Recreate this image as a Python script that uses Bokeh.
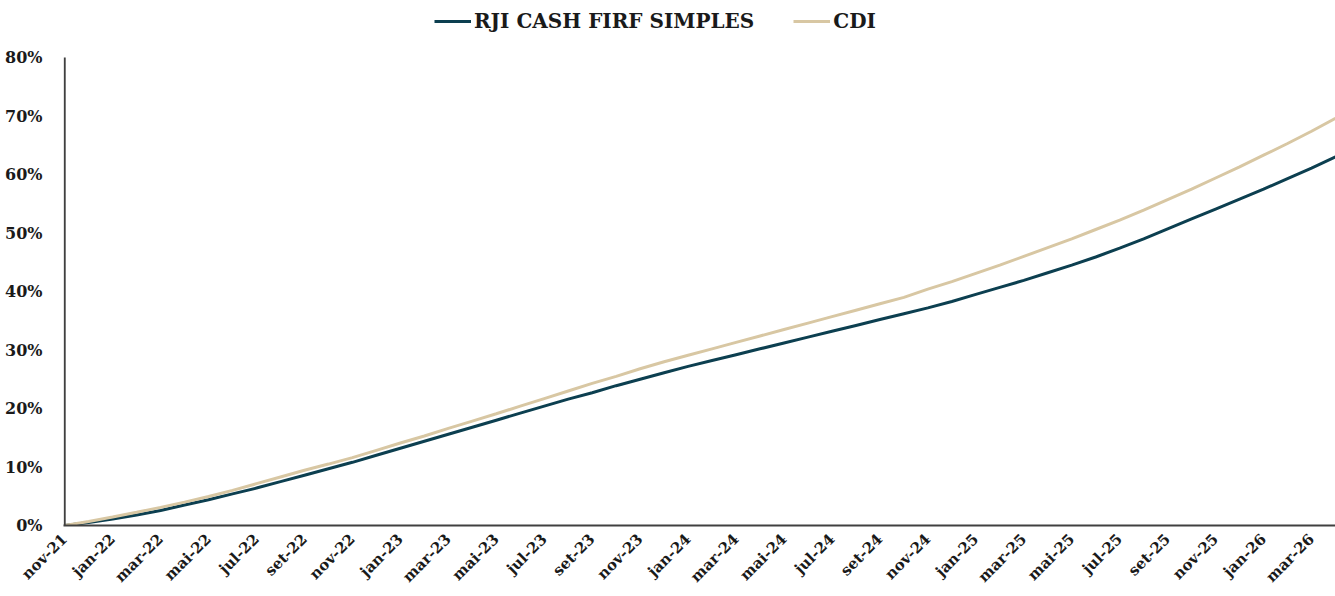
from math import pi
from bokeh.plotting import figure
from bokeh.models import Legend, LegendItem, FixedTicker, PrintfTickFormatter, Range1d
from bokeh.embed import file_html
from bokeh.resources import INLINE

# Monthly cumulative returns (%), nov-21 .. abr-26
months = ["nov-21", "dez-21", "jan-22", "fev-22", "mar-22", "abr-22", "mai-22", "jun-22",
          "jul-22", "ago-22", "set-22", "out-22", "nov-22", "dez-22", "jan-23", "fev-23",
          "mar-23", "abr-23", "mai-23", "jun-23", "jul-23", "ago-23", "set-23", "out-23",
          "nov-23", "dez-23", "jan-24", "fev-24", "mar-24", "abr-24", "mai-24", "jun-24",
          "jul-24", "ago-24", "set-24", "out-24", "nov-24", "dez-24", "jan-25", "fev-25",
          "mar-25", "abr-25", "mai-25", "jun-25", "jul-25", "ago-25", "set-25", "out-25",
          "nov-25", "dez-25", "jan-26", "fev-26", "mar-26", "abr-26"]

rji = [0.0, 0.5, 1.1, 1.8, 2.55, 3.5, 4.4, 5.4, 6.4, 7.5, 8.6, 9.7, 10.8, 12.0, 13.2, 14.4,
       15.6, 16.8, 18.0, 19.2, 20.4, 21.6, 22.7, 23.9, 25.0, 26.1, 27.2, 28.2, 29.2, 30.2,
       31.2, 32.2, 33.2, 34.2, 35.2, 36.2, 37.2, 38.3, 39.5, 40.7, 41.9, 43.2, 44.5, 45.9,
       47.4, 49.0, 50.7, 52.4, 54.1, 55.8, 57.5, 59.3, 61.1, 63.0]

cdi = [0.0, 0.7, 1.45, 2.25, 3.1, 4.0, 4.95, 6.0, 7.15, 8.3, 9.45, 10.5, 11.6, 12.85, 14.1,
       15.3, 16.6, 17.85, 19.1, 20.4, 21.7, 23.0, 24.3, 25.5, 26.8, 28.0, 29.1, 30.2, 31.3,
       32.4, 33.5, 34.6, 35.7, 36.8, 37.9, 39.0, 40.4, 41.7, 43.1, 44.5, 46.0, 47.5, 49.0,
       50.6, 52.2, 53.9, 55.7, 57.5, 59.4, 61.3, 63.3, 65.3, 67.4, 69.6]

y_ticks = [0, 10, 20, 30, 40, 50, 60, 70, 80]
series_names = ["RJI CASH FIRF SIMPLES", "CDI"]

FONT = "DejaVu Serif"
DARK = "#0c3f50"
BEIGE = "#d8c7a3"
AXIS = "#404040"

x = list(range(len(months)))

# frame spans the full height above the x axis (legend sits inside it, above the 80% mark)
FRAME_H = 525
Y_TOP = y_ticks[-1] * FRAME_H / (FRAME_H - 57)

p = figure(width=1335, height=596, output_backend="svg", toolbar_location=None,
           x_range=Range1d(-0.05, len(months) - 1), y_range=Range1d(0, Y_TOP),
           min_border_left=63, min_border_right=0, min_border_top=0,
           min_border_bottom=596 - FRAME_H)
p.outline_line_color = None
p.grid.visible = False
p.background_fill_color = "white"

r1 = p.line(x, rji, line_color=DARK, line_width=3)
r2 = p.line(x, cdi, line_color=BEIGE, line_width=3)

# left axis line only up to the top tick
p.segment(x0=[0], y0=[0], x1=[0], y1=[y_ticks[-1]], line_color=AXIS, line_width=2)

# axes
p.xaxis.ticker = FixedTicker(ticks=x[::2])
p.xaxis.major_label_overrides = {i: months[i] for i in x[::2]}
p.xaxis.major_label_orientation = pi / 4
p.yaxis.ticker = FixedTicker(ticks=y_ticks)
p.yaxis.formatter = PrintfTickFormatter(format="%d%%")
p.yaxis.axis_line_color = None
p.xaxis.axis_line_color = AXIS
p.xaxis.axis_line_width = 2
for ax in (p.xaxis, p.yaxis):
    ax.major_tick_line_color = None
    ax.minor_tick_line_color = None
    ax.major_label_text_font = FONT
    ax.major_label_text_font_style = "bold"
    ax.major_label_text_color = "#1a1a1a"
p.xaxis.major_label_text_font_size = "15px"
p.yaxis.major_label_text_font_size = "16px"
p.yaxis.major_label_standoff = 15
p.xaxis.major_label_standoff = 5

legend = Legend(items=[LegendItem(label=series_names[0], renderers=[r1]),
                       LegendItem(label=series_names[1], renderers=[r2])],
                orientation="horizontal", location=(371, FRAME_H - 33),
                label_text_font=FONT, label_text_font_style="bold",
                label_text_font_size="20px", label_text_color="#1a1a1a",
                glyph_width=37, label_standoff=3, spacing=39,
                padding=0, margin=0, border_line_color=None,
                background_fill_alpha=0)
p.add_layout(legend)

open("out.html", "w").write(file_html(p, INLINE))
